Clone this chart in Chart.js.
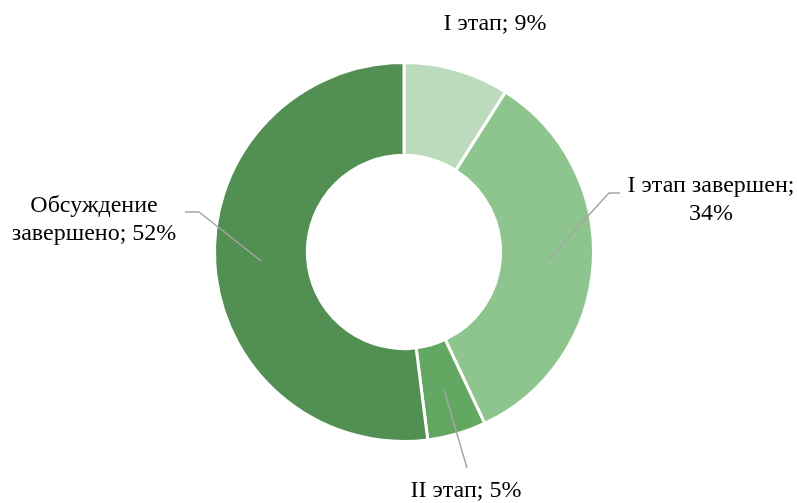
<!DOCTYPE html>
<html>
<head>
<meta charset="utf-8">
<script src="https://cdn.jsdelivr.net/npm/chart.js@4/dist/chart.umd.min.js"></script>
<style>
  html, body { margin: 0; padding: 0; background: #fff; }
  #wrap { width: 797px; height: 503px; position: relative; }
</style>
</head>
<body>
<div id="wrap"><canvas id="chart"></canvas></div>
<script>
// data
var categories = ['I этап', 'I этап завершен', 'II этап', 'Обсуждение завершено'];
var shares = [9, 34, 5, 52];
var sliceColors = ['#bcdbbc', '#8ec48e', '#62a862', '#528f52'];

// label placement: x = centre, y = baseline of first line; elbow = leader line bends
var labelSpots = [
    { x: 495, y: 30, lines: ['I этап; 9%'], elbow: null },
    { x: 711, y: 192, lines: ['I этап завершен;', '34%'], elbow: [[609, 193], [620, 193]] },
    { x: 466, y: 497, lines: ['II этап; 5%'], elbow: [[467, 468]] },
    { x: 94, y: 212, lines: ['Обсуждение', 'завершено; 52%'], elbow: [[199, 212], [185, 212]] }
];

var labelPlugin = {
    id: 'sliceLabels',
    afterDatasetsDraw: function (chart) {
        var ctx = chart.ctx;
        var arcs = chart.getDatasetMeta(0).data;
        ctx.save();
        for (var i = 0; i < arcs.length; i++) {
            var spot = labelSpots[i];
            if (!spot) continue;
            var a = arcs[i];
            var mid = (a.startAngle + a.endAngle) / 2;
            var r = (a.innerRadius + a.outerRadius) / 2;
            if (spot.elbow) {
                ctx.strokeStyle = '#a6a6a6';
                ctx.lineWidth = 1.5;
                ctx.beginPath();
                ctx.moveTo(a.x + Math.cos(mid) * r, a.y + Math.sin(mid) * r);
                for (var k = 0; k < spot.elbow.length; k++) {
                    ctx.lineTo(spot.elbow[k][0], spot.elbow[k][1]);
                }
                ctx.stroke();
            }
            ctx.fillStyle = '#000';
            ctx.font = '24px "Liberation Serif", "Times New Roman", serif';
            ctx.textAlign = 'center';
            ctx.textBaseline = 'alphabetic';
            for (var j = 0; j < spot.lines.length; j++) {
                ctx.fillText(spot.lines[j], spot.x, spot.y + j * 28);
            }
        }
        ctx.restore();
    }
};

new Chart(document.getElementById('chart').getContext('2d'), {
    type: 'doughnut',
    data: {
        labels: categories,
        datasets: [{
            data: shares,
            backgroundColor: sliceColors,
            borderColor: '#ffffff',
            borderWidth: 3
        }]
    },
    options: {
        responsive: true,
        maintainAspectRatio: false,
        animation: false,
        cutout: '51%',
        rotation: 0,
        layout: { padding: { left: 213, right: 202, top: 61, bottom: 60 } },
        plugins: {
            legend: { display: false },
            tooltip: { enabled: false }
        }
    },
    plugins: [labelPlugin]
});
</script>
</body>
</html>
